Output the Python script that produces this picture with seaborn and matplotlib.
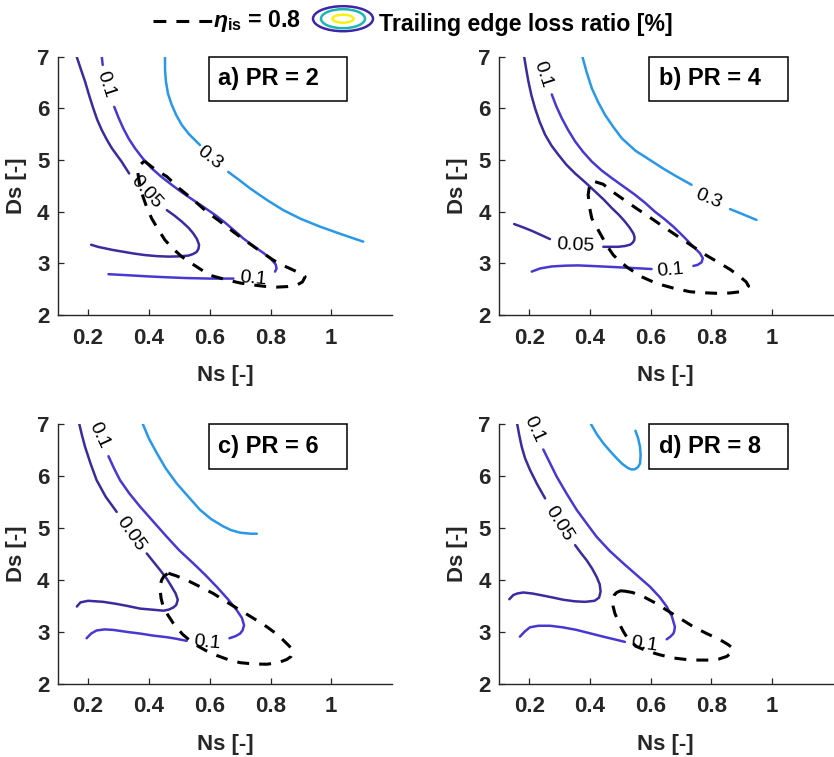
import matplotlib
matplotlib.use("Agg")
import matplotlib.pyplot as plt
import seaborn as sns
import pandas as pd
from matplotlib.patches import Ellipse, Rectangle
from matplotlib.lines import Line2D

# ---------------- data ----------------
XTICKS = [0.2, 0.4, 0.6, 0.8, 1.0]
XTICKLABELS = ["0.2", "0.4", "0.6", "0.8", "1"]
YTICKS = [2, 3, 4, 5, 6, 7]
PANEL_TITLES = ["a) PR = 2", "b) PR = 4", "c) PR = 6", "d) PR = 8"]

# Panel a
A_L005 = [
    [(0.1625, 7.0), (0.176, 6.76), (0.19, 6.52), (0.203, 6.26), (0.217, 6.0), (0.23, 5.78),
     (0.245, 5.58), (0.261, 5.4), (0.278, 5.23), (0.294, 5.1), (0.31, 4.97), (0.335, 4.74)],
    [(0.459, 4.03), (0.485, 3.92), (0.508, 3.81), (0.53, 3.69), (0.546, 3.58), (0.558, 3.47),
     (0.565, 3.36), (0.563, 3.28), (0.557, 3.22), (0.545, 3.18), (0.53, 3.15), (0.5, 3.135),
     (0.464, 3.13), (0.425, 3.14), (0.387, 3.16), (0.35, 3.19), (0.31, 3.23), (0.28, 3.26),
     (0.256, 3.29), (0.232, 3.32), (0.21, 3.36)],
]
A_L01 = [
    [(0.245, 7.0), (0.248, 6.84)],
    [(0.286, 6.03), (0.3, 5.82), (0.316, 5.61), (0.334, 5.41), (0.354, 5.23), (0.38, 5.03),
     (0.409, 4.84), (0.44, 4.68), (0.475, 4.52), (0.512, 4.36), (0.552, 4.2), (0.585, 4.07),
     (0.617, 3.94), (0.65, 3.79), (0.68, 3.64), (0.711, 3.48), (0.745, 3.33), (0.777, 3.2),
     (0.802, 3.08), (0.817, 2.98), (0.82, 2.9), (0.815, 2.84)],
    [(0.267, 2.79), (0.33, 2.77), (0.404, 2.745), (0.46, 2.73), (0.524, 2.715), (0.6, 2.705), (0.678, 2.705)],
]
A_L03 = [
    [(0.453, 7.0), (0.453, 6.75), (0.456, 6.52), (0.463, 6.28), (0.475, 6.07), (0.49, 5.87),
     (0.508, 5.68), (0.532, 5.5), (0.568, 5.29)],
    [(0.661, 4.77), (0.7, 4.6), (0.733, 4.45), (0.79, 4.22), (0.842, 4.03), (0.9, 3.86),
     (0.963, 3.71), (1.03, 3.57), (1.105, 3.42)],
]
A_ETA = [(0.385, 4.98), (0.42, 4.82), (0.459, 4.68), (0.5, 4.45), (0.546, 4.23), (0.59, 4.0),
         (0.634, 3.81), (0.68, 3.6), (0.722, 3.42), (0.77, 3.22), (0.81, 3.06), (0.845, 2.95),
         (0.875, 2.87), (0.9, 2.8), (0.914, 2.74), (0.905, 2.64), (0.887, 2.58), (0.855, 2.55),
         (0.821, 2.54), (0.78, 2.555), (0.744, 2.58), (0.7, 2.62), (0.656, 2.68), (0.6, 2.77),
         (0.574, 2.87), (0.54, 3.0), (0.508, 3.13), (0.478, 3.29), (0.453, 3.45), (0.43, 3.66),
         (0.409, 3.87), (0.392, 4.1), (0.38, 4.3), (0.37, 4.5), (0.363, 4.78), (0.37, 4.9),
         (0.385, 4.98)]
A_LABELS = [("0.1", 0.259, 6.47, -72), ("0.05", 0.39, 4.38, -48), ("0.3", 0.601, 5.035, -38),
            ("0.1", 0.743, 2.695, -5)]

# Panel b
B_L005 = [
    [(0.183, 7.0), (0.19, 6.75), (0.197, 6.52), (0.207, 6.25), (0.219, 6.0), (0.234, 5.74),
     (0.252, 5.49), (0.273, 5.28), (0.296, 5.1), (0.322, 4.91), (0.351, 4.74), (0.384, 4.57),
     (0.417, 4.39), (0.446, 4.23), (0.472, 4.07), (0.495, 3.94), (0.515, 3.81), (0.531, 3.69),
     (0.543, 3.58), (0.547, 3.51), (0.546, 3.45), (0.541, 3.4), (0.532, 3.36), (0.515, 3.335),
     (0.493, 3.32), (0.47, 3.32), (0.444, 3.32)],
    [(0.268, 3.47), (0.238, 3.55), (0.208, 3.63), (0.178, 3.7), (0.15, 3.76)],
]
B_L01 = [
    [(0.274, 6.27), (0.289, 6.04), (0.307, 5.81), (0.328, 5.58), (0.351, 5.36), (0.377, 5.16),
     (0.406, 4.97), (0.438, 4.8), (0.472, 4.65), (0.51, 4.49), (0.548, 4.33), (0.582, 4.17),
     (0.614, 4.0), (0.645, 3.86), (0.675, 3.71), (0.71, 3.51), (0.741, 3.32), (0.762, 3.2),
     (0.772, 3.1), (0.768, 3.02), (0.755, 2.97), (0.741, 2.95)],
    [(0.208, 2.84), (0.235, 2.9), (0.274, 2.94), (0.32, 2.955), (0.361, 2.96), (0.42, 2.945),
     (0.472, 2.93), (0.54, 2.91), (0.603, 2.89)],
]
B_L03 = [
    [(0.375, 7.0), (0.389, 6.7), (0.406, 6.39), (0.427, 6.12), (0.45, 5.87), (0.477, 5.64),
     (0.505, 5.42), (0.55, 5.18), (0.598, 5.0), (0.64, 4.84), (0.686, 4.68), (0.735, 4.52)],
    [(0.862, 4.05), (0.9, 3.96), (0.949, 3.84)],
]
B_ETA = [(0.417, 4.58), (0.444, 4.53), (0.466, 4.42), (0.51, 4.24), (0.554, 4.06), (0.6, 3.88),
         (0.642, 3.71), (0.69, 3.52), (0.741, 3.32), (0.785, 3.15), (0.829, 3.0), (0.865, 2.87),
         (0.895, 2.74), (0.915, 2.64), (0.923, 2.56), (0.91, 2.49), (0.895, 2.45), (0.86, 2.425),
         (0.818, 2.42), (0.775, 2.43), (0.73, 2.45), (0.675, 2.52), (0.62, 2.61), (0.57, 2.74),
         (0.526, 2.91), (0.5, 3.03), (0.477, 3.16), (0.456, 3.34), (0.439, 3.52), (0.42, 3.72),
         (0.406, 3.87), (0.398, 4.1), (0.394, 4.33), (0.398, 4.48), (0.406, 4.55), (0.417, 4.58)]
B_LABELS = [("0.1", 0.243, 6.66, -72), ("0.05", 0.353, 3.34, -3), ("0.3", 0.792, 4.25, -22),
            ("0.1", 0.666, 2.86, 5)]

# Panel c
C_L005 = [
    [(0.171, 7.0), (0.18, 6.78), (0.19, 6.56), (0.208, 6.24), (0.228, 5.92), (0.258, 5.6), (0.294, 5.31)],
    [(0.393, 4.51), (0.415, 4.35), (0.437, 4.19), (0.458, 4.03), (0.475, 3.87), (0.488, 3.74),
     (0.495, 3.62), (0.49, 3.52), (0.48, 3.47), (0.465, 3.43), (0.448, 3.41), (0.41, 3.43),
     (0.371, 3.45), (0.33, 3.5), (0.294, 3.54), (0.25, 3.58), (0.2, 3.6), (0.175, 3.57), (0.163, 3.49)],
]
C_L01 = [
    [(0.267, 6.38), (0.285, 6.15), (0.305, 5.92), (0.335, 5.67), (0.371, 5.41), (0.415, 5.12),
     (0.459, 4.83), (0.5, 4.57), (0.546, 4.32), (0.585, 4.1), (0.623, 3.87), (0.66, 3.63),
     (0.689, 3.42), (0.706, 3.27), (0.713, 3.13), (0.708, 3.03), (0.7, 2.97), (0.685, 2.92),
     (0.665, 2.88)],
    [(0.195, 2.88), (0.21, 2.97), (0.228, 3.03), (0.255, 3.05), (0.283, 3.04), (0.33, 3.0),
     (0.371, 2.97), (0.415, 2.93), (0.459, 2.9), (0.49, 2.87), (0.524, 2.83)],
]
C_L03 = [
    [(0.38, 7.0), (0.4, 6.72), (0.426, 6.44), (0.455, 6.15), (0.491, 5.86), (0.53, 5.6),
     (0.568, 5.35), (0.605, 5.17), (0.645, 5.03), (0.67, 4.96), (0.7, 4.91), (0.735, 4.89), (0.755, 4.89)],
]
C_ETA = [(0.464, 4.13), (0.49, 4.08), (0.524, 4.0), (0.565, 3.88), (0.612, 3.74), (0.655, 3.58),
         (0.7, 3.42), (0.745, 3.26), (0.788, 3.1), (0.825, 2.94), (0.853, 2.78), (0.87, 2.68),
         (0.875, 2.62), (0.868, 2.53), (0.853, 2.47), (0.825, 2.41), (0.788, 2.38), (0.745, 2.385),
         (0.7, 2.41), (0.66, 2.47), (0.623, 2.55), (0.585, 2.65), (0.546, 2.78), (0.51, 2.96),
         (0.48, 3.17), (0.462, 3.33), (0.447, 3.49), (0.44, 3.65), (0.437, 3.81), (0.438, 3.92),
         (0.442, 4.0), (0.45, 4.08), (0.464, 4.13)]
C_LABELS = [("0.1", 0.237, 6.79, -65), ("0.05", 0.34, 4.88, -55), ("0.1", 0.592, 2.795, -5)]

# Panel d
D_L005 = [
    [(0.16, 7.0), (0.167, 6.78), (0.175, 6.56), (0.186, 6.34), (0.202, 6.12), (0.225, 5.85), (0.252, 5.57)],
    [(0.351, 4.67), (0.37, 4.52), (0.389, 4.38), (0.407, 4.22), (0.422, 4.06), (0.432, 3.92),
     (0.435, 3.78), (0.43, 3.66), (0.415, 3.6), (0.384, 3.58), (0.35, 3.59), (0.312, 3.62),
     (0.28, 3.66), (0.246, 3.7), (0.21, 3.74), (0.18, 3.76), (0.16, 3.74), (0.147, 3.71), (0.134, 3.63)],
]
D_L01 = [
    [(0.246, 6.51), (0.268, 6.25), (0.29, 5.99), (0.322, 5.67), (0.356, 5.35), (0.39, 5.08),
     (0.422, 4.83), (0.465, 4.56), (0.51, 4.32), (0.555, 4.09), (0.598, 3.87), (0.63, 3.67),
     (0.653, 3.49), (0.67, 3.3), (0.68, 3.1), (0.678, 3.02), (0.675, 2.97), (0.665, 2.91), (0.653, 2.86)],
    [(0.169, 2.91), (0.185, 3.01), (0.202, 3.09), (0.23, 3.12), (0.268, 3.12), (0.31, 3.09),
     (0.356, 3.04), (0.4, 2.975), (0.444, 2.91), (0.48, 2.86), (0.515, 2.81)],
]
D_L03 = [
    [(0.403, 7.0), (0.423, 6.8), (0.444, 6.63), (0.466, 6.48), (0.488, 6.34), (0.507, 6.23),
     (0.526, 6.15), (0.538, 6.125), (0.548, 6.13), (0.558, 6.17), (0.565, 6.24), (0.567, 6.4),
     (0.565, 6.56), (0.559, 6.72), (0.55, 6.87)],
]
D_ETA = [(0.51, 3.79), (0.54, 3.76), (0.576, 3.68), (0.615, 3.56), (0.653, 3.42), (0.7, 3.25),
         (0.741, 3.1), (0.785, 2.97), (0.829, 2.85), (0.855, 2.76), (0.871, 2.69), (0.866, 2.6),
         (0.851, 2.53), (0.825, 2.48), (0.796, 2.46), (0.757, 2.46), (0.719, 2.47), (0.675, 2.5),
         (0.631, 2.56), (0.59, 2.63), (0.554, 2.72), (0.527, 2.85), (0.51, 3.01), (0.495, 3.18),
         (0.482, 3.36), (0.476, 3.5), (0.475, 3.62), (0.48, 3.71), (0.488, 3.76), (0.5, 3.79), (0.51, 3.79)]
D_LABELS = [("0.1", 0.215, 6.9, -65), ("0.05", 0.298, 5.09, -58), ("0.1", 0.578, 2.76, -8)]

# ---------------- style ----------------
COL_005 = "#3C2A9E"
COL_01 = "#4838D2"
COL_03 = "#2898E8"
AXCOL = "#262626"

sns.set_theme(style="ticks")
plt.rcParams["font.family"] = ["Liberation Sans", "DejaVu Sans"]
plt.rcParams["mathtext.fontset"] = "custom"
plt.rcParams["mathtext.it"] = "Liberation Sans:italic:bold"
plt.rcParams["mathtext.rm"] = "Liberation Sans:bold"
plt.rcParams["mathtext.bf"] = "Liberation Sans:bold"

W, H = 834, 757
fig = plt.figure(figsize=(W / 100, H / 100), dpi=100, facecolor="white")

positions = [
    [57.7 / W, 1 - 315 / H, 334.4 / W, 258.3 / H],
    [499 / W, 1 - 315 / H, 333.6 / W, 258.3 / H],
    [57.7 / W, 1 - 684 / H, 334.4 / W, 260 / H],
    [499 / W, 1 - 684 / H, 333.6 / W, 260 / H],
]

panels = [
    (A_L005, A_L01, A_L03, A_ETA, A_LABELS),
    (B_L005, B_L01, B_L03, B_ETA, B_LABELS),
    (C_L005, C_L01, C_L03, C_ETA, C_LABELS),
    (D_L005, D_L01, D_L03, D_ETA, D_LABELS),
]


def draw(ax, pts, color, lw, ls="-", z=2):
    df = pd.DataFrame(pts, columns=["Ns", "Ds"])
    sns.lineplot(data=df, x="Ns", y="Ds", sort=False, estimator=None, color=color,
                 linewidth=lw, linestyle=ls, ax=ax, zorder=z,
                 solid_joinstyle="round", dash_joinstyle="round")


for pos, (l005, l01, l03, eta, labels), title in zip(positions, panels, PANEL_TITLES):
    ax = fig.add_axes(pos)
    ax.set_facecolor("white")
    for seg in l005:
        draw(ax, seg, COL_005, 1.8)
    for seg in l01:
        draw(ax, seg, COL_01, 1.8)
    for seg in l03:
        draw(ax, seg, COL_03, 1.8)
    draw(ax, eta, "black", 2.2, ls=(0, (3.9, 3.3)), z=3)
    for txt, x, y, rot in labels:
        ax.text(x, y, txt, rotation=rot, rotation_mode="anchor", ha="center", va="center",
                fontsize=14, color="black", zorder=4)

    ax.set_xlim(0.1, 1.2)
    ax.set_ylim(2, 7)
    ax.set_xticks(XTICKS)
    ax.set_xticklabels(XTICKLABELS)
    ax.set_yticks(YTICKS)
    ax.set_yticklabels([str(v) for v in YTICKS])
    for s in ["top", "right"]:
        ax.spines[s].set_visible(False)
    for s in ["left", "bottom"]:
        ax.spines[s].set_color(AXCOL)
        ax.spines[s].set_linewidth(1.0)
    ax.tick_params(axis="both", direction="in", length=4, width=0.9, color=AXCOL,
                   labelsize=16, labelcolor=AXCOL, bottom=True, left=True)
    ax.tick_params(axis="x", pad=9)
    ax.tick_params(axis="y", pad=6)
    for lab in ax.get_xticklabels() + ax.get_yticklabels():
        lab.set_fontweight("bold")
    ax.set_xlabel("Ns [-]", fontsize=16, fontweight="bold", color=AXCOL, labelpad=12)
    ax.set_ylabel("Ds [-]", fontsize=16, fontweight="bold", color=AXCOL, labelpad=7)

    ax.add_patch(Rectangle((0.451, 0.828), 0.414, 0.172, transform=ax.transAxes,
                           facecolor="white", edgecolor="black", linewidth=1.1, zorder=5,
                           clip_on=False))
    ax.text(0.48, 0.914, title, transform=ax.transAxes, fontsize=17, fontweight="bold",
            color="black", ha="left", va="center", zorder=6)

# ---------------- legend at top ----------------
def fx(px):
    return px / W


def fy(py):
    return 1 - py / H


fig.add_artist(Line2D([fx(153), fx(212)], [fy(20.7), fy(20.7)], transform=fig.transFigure,
                      color="black", linewidth=2.2, linestyle=(0, (4.2, 3.3))))
fig.text(fx(213), fy(27), r"$\eta_{\mathrm{is}}$ = 0.8", fontsize=16.7, fontweight="bold",
         color="black", ha="left", va="baseline")
for (w, h, c) in [(60, 25, "#3E26A8"), (44, 19, "#1FB5B0"), (21, 8, "#F7F20F")]:
    fig.add_artist(Ellipse((fx(343), fy(18.7)), w / W, h / H, transform=fig.transFigure,
                           fill=False, edgecolor=c, linewidth=1.8))
fig.text(fx(379), fy(31), "Trailing edge loss ratio [%]", fontsize=16.7, fontweight="bold",
         color="black", ha="left", va="baseline")

fig.savefig("out.png", dpi=100, facecolor="white")
